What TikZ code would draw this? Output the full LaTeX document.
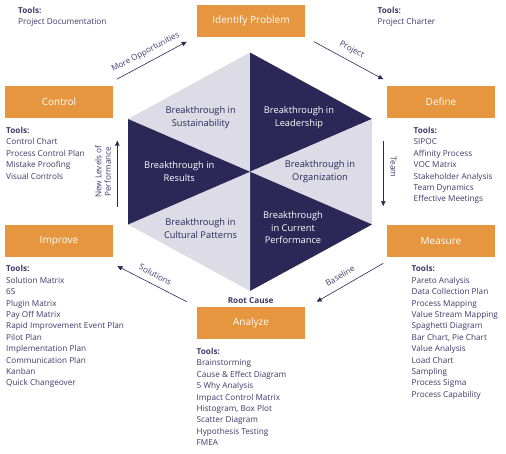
\documentclass[tikz,border=0pt]{standalone}
\usepackage{fontspec}
\setmainfont{Open Sans}
\usetikzlibrary{arrows.meta}
\definecolor{navy}{HTML}{2B2858}
\definecolor{lite}{HTML}{DCDBE6}
\definecolor{orng}{HTML}{E5963F}
\definecolor{txt}{HTML}{3C3A6A}
\begin{document}
\begin{tikzpicture}[x=1pt,y=-1pt,
 stepbox/.style={fill=orng, minimum width=108pt, minimum height=32pt, inner sep=0, text=white, font=\fontsize{10}{12}\selectfont},
 tools/.style={anchor=north west, inner sep=0, align=left, text=txt, font=\fontsize{8.2}{11.4}\selectfont},
 flow/.style={draw=navy, line width=0.6pt, -{Triangle[length=5pt,width=4.5pt]}},
 flowlbl/.style={text=txt, font=\fontsize{8.2}{9.5}\selectfont, inner sep=0, align=center},
 hexlbl/.style={font=\fontsize{9.3}{12.5}\selectfont, align=center, inner sep=0},
 onlite/.style={hexlbl, text=navy},
 ondark/.style={hexlbl, text=white}]
\useasboundingbox (0,0) rectangle (506,453);
% hexagon
\coordinate (T) at (250,52.5);
\coordinate (UR) at (372,119);
\coordinate (LR) at (372,224.5);
\coordinate (B) at (250,291);
\coordinate (LL) at (128,224.5);
\coordinate (UL) at (128,119);
\coordinate (C) at (250,171.75);
\fill[lite] (T) -- (UL) -- (C) -- cycle;
\fill[navy] (T) -- (UR) -- (C) -- cycle;
\fill[lite] (UR) -- (LR) -- (C) -- cycle;
\fill[navy] (LR) -- (B) -- (C) -- cycle;
\fill[lite] (B) -- (LL) -- (C) -- cycle;
\fill[navy] (LL) -- (UL) -- (C) -- cycle;
\node[onlite] (hs) at (200.7,117.5) {Breakthrough in\\Sustainability};
\node[ondark] (hl) at (299,117.5) {Breakthrough in\\Leadership};
\node[ondark] (hr) at (179.3,171.7) {Breakthrough in\\Results};
\node[onlite] (ho) at (320,171.7) {Breakthrough in\\Organization};
\node[onlite] (hc) at (200.5,228.3) {Breakthrough in\\Cultural Patterns};
\node[ondark] (hp) at (293,227.7) {Breakthrough\\in Current\\Performance};
% steps
\node[stepbox] (idp) at (251,21) {Identify Problem};
\node[stepbox] (def) at (441,102) {Define};
\node[stepbox] (mea) at (441,241) {Measure};
\node[stepbox] (ana) at (251,323) {Analyze};
\node[stepbox] (imp) at (59,241) {Improve};
\node[stepbox] (con) at (59,102) {Control};
% tools
\node[tools] (t1) at (18,7) {\textbf{Tools:}\\Project Documentation};
\node[tools] (t2) at (377.5,7) {\textbf{Tools:}\\Project Charter};
\node[tools] (t3) at (6,127) {\textbf{Tools:}\\Control Chart\\Process Control Plan\\Mistake Proofing\\Visual Controls};
\node[tools] (t4) at (413.5,127) {\textbf{Tools:}\\SIPOC\\Affinity Process\\VOC Matrix\\Stakeholder Analysis\\Team Dynamics\\Effective Meetings};
\node[tools] (t5) at (6,265.5) {\textbf{Tools:}\\Solution Matrix\\6S\\Plugin Matrix\\Pay Off Matrix\\Rapid Improvement Event Plan\\Pilot Plan\\Implementation Plan\\Communication Plan\\Kanban\\Quick Changeover};
\node[tools] (t6) at (411.5,265.5) {\textbf{Tools:}\\Pareto Analysis\\Data Collection Plan\\Process Mapping\\Value Stream Mapping\\Spaghetti Diagram\\Bar Chart, Pie Chart\\Value Analysis\\Load Chart\\Sampling\\Process Sigma\\Process Capability};
\node[tools] (t7) at (196.5,348) {\textbf{Tools:}\\Brainstorming\\Cause \& Effect Diagram\\5 Why Analysis\\Impact Control Matrix\\Histogram, Box Plot\\Scatter Diagram\\Hypothesis Testing\\FMEA};
% flow arrows
\coordinate (a1s) at (116.7,79.3); \coordinate (a1e) at (186.7,41.7);
\coordinate (a2s) at (314,41.7);   \coordinate (a2e) at (383.3,79.3);
\coordinate (a3s) at (383.3,141);  \coordinate (a3e) at (383.3,206);
\coordinate (a4s) at (383.3,263.3);\coordinate (a4e) at (316.7,301.7);
\coordinate (a5s) at (186.7,301.7);\coordinate (a5e) at (117.3,266);
\coordinate (a6s) at (117.3,206.7);\coordinate (a6e) at (117.3,140.7);
\draw[flow] (a1s) -- (a1e);
\draw[flow] (a2s) -- (a2e);
\draw[flow] (a3s) -- (a3e);
\draw[flow] (a4s) -- (a4e);
\draw[flow] (a5s) -- (a5e);
\draw[flow] (a6s) -- (a6e);
\node[flowlbl, rotate=28] (l1) at (145.7,52.3) {More Opportunities};
\node[flowlbl, rotate=-28] (l2) at (351.7,50) {Project};
\node[flowlbl, rotate=-90] (l3) at (393.5,167) {Team};
\node[flowlbl, rotate=30] (l4) at (340,276) {Baseline};
\node[flowlbl, rotate=-28] (l5) at (155.5,274.5) {Solutions};
\node[flowlbl, rotate=90] (l6) at (103,171.7) {New Levels of\\Performance};
\node[flowlbl, font=\bfseries\fontsize{8.2}{9.5}\selectfont] (rc) at (250.7,300.7) {Root Cause};
\end{tikzpicture}
\end{document}
